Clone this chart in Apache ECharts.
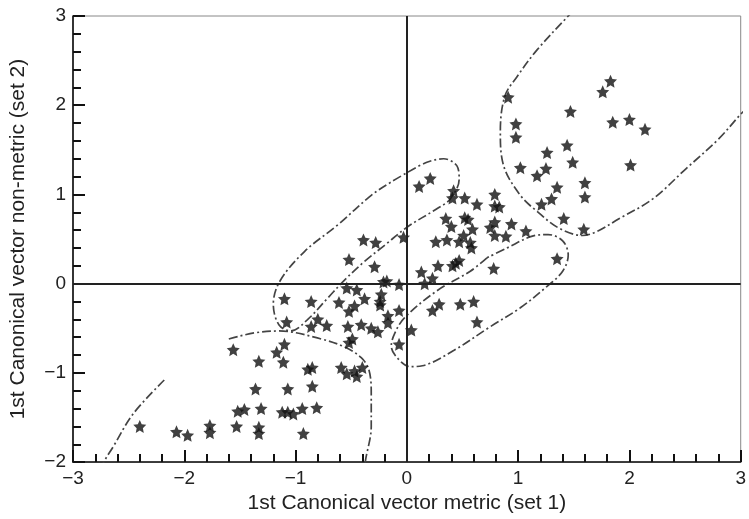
<!DOCTYPE html>
<html>
<head>
<meta charset="utf-8">
<script src="https://cdn.jsdelivr.net/npm/echarts@6/dist/echarts.min.js"></script>
<style>
  html, body { margin: 0; padding: 0; background: #fff; }
  #chart { width: 749px; height: 519px; }
</style>
</head>
<body>
<div id="chart"></div>
<script>
// Canonical scores: x = metric (set 1), y = non-metric (set 2)
var robustCrania = [
  [0.91,2.09],[1.83,2.27],[1.76,2.15],[1.47,1.93],[0.98,1.79],[0.98,1.64],[1.85,1.81],
  [2.00,1.84],[2.14,1.73],[1.44,1.55],[1.26,1.47],[1.49,1.36],[2.01,1.33],[1.02,1.30],
  [1.25,1.29],[1.17,1.21],[1.35,1.08],[1.60,1.13],[1.60,0.97],[1.30,0.95],[1.21,0.89],
  [1.41,0.73],[1.59,0.61]
];
var intermediateCrania = [
  [0.79,1.00],[0.79,0.87],[0.83,0.86],[0.79,0.69],[0.75,0.63],[0.94,0.67],[1.07,0.59],
  [0.79,0.54],[0.89,0.53],[1.35,0.28],[0.78,0.17],
  [0.11,1.09],[0.21,1.18],[0.42,1.04],[0.41,0.96],[0.52,0.96],[0.63,0.89],[0.35,0.73],
  [0.40,0.64],[0.52,0.74],[0.55,0.72],[0.59,0.61],
  [-0.03,0.52],[0.26,0.47],[0.36,0.49],[0.47,0.47],[0.51,0.54],[0.57,0.46],[0.58,0.40],
  [-0.39,0.49],[-0.28,0.46],[-0.52,0.27],[-0.29,0.19],[0.28,0.20],[0.41,0.20],[0.44,0.23],
  [0.47,0.26],[0.13,0.13],[0.23,0.06],[0.16,0.00],[-0.21,0.02],[-0.18,0.03],[-0.07,-0.01],
  [-0.54,-0.05],[-0.45,-0.07],[-1.10,-0.17],[-0.86,-0.20],[-0.61,-0.21],[-0.38,-0.17],
  [-0.23,-0.12],[-0.24,-0.20],[-0.24,-0.24],[-0.47,-0.25],[-0.52,-0.31],[-0.07,-0.30],
  [-0.17,-0.36],[0.23,-0.30],[0.29,-0.23],[0.48,-0.23],[0.60,-0.20],[0.63,-0.43],
  [-1.08,-0.43],[-0.80,-0.40],[-0.86,-0.48],[-0.72,-0.47],[-0.53,-0.48],[-0.41,-0.46],
  [-0.32,-0.50],[-0.26,-0.54],[-0.17,-0.44],[0.04,-0.52],[-0.49,-0.62],[-0.52,-0.66],
  [-0.07,-0.68]
];
var gracileCrania = [
  [-1.10,-0.68],[-1.17,-0.77],[-1.33,-0.87],[-1.11,-0.88],[-0.89,-0.96],[-0.85,-0.94],
  [-0.59,-0.94],[-0.54,-1.01],[-0.47,-0.98],[-0.45,-1.04],[-0.40,-0.94],[-1.36,-1.18],
  [-1.07,-1.18],[-0.85,-1.15],[-1.52,-1.43],[-1.46,-1.41],[-1.31,-1.40],[-1.12,-1.44],
  [-1.07,-1.44],[-1.02,-1.46],[-0.94,-1.40],[-0.81,-1.39],[-1.53,-1.60],[-1.33,-1.61],
  [-1.33,-1.68],[-0.93,-1.68],[-1.56,-0.74],[-2.40,-1.60],[-2.07,-1.66],[-1.97,-1.70],
  [-1.77,-1.59],[-1.77,-1.67]
];

// Hand-drawn group outlines (data coordinates)
var robustOutline = [
  [1.50,3.06],[1.45,3.00],[1.17,2.62],[0.99,2.32],[0.88,2.10],[0.84,1.70],[0.87,1.32],
  [1.02,0.99],[1.17,0.81],[1.37,0.62],[1.58,0.54],[1.70,0.58],[1.91,0.73],[2.21,0.95],
  [2.51,1.29],[2.80,1.62],[3.00,1.90],[3.05,1.96]
];
var upperLoop = [
  [0.01,1.25],[0.18,1.36],[0.33,1.40],[0.45,1.32],[0.47,1.17],[0.39,0.95],[0.27,0.84],
  [0.01,0.64],[-0.20,0.43],[-0.38,0.25],[-0.56,0.04],[-0.71,-0.16],[-0.89,-0.40],
  [-1.04,-0.53],[-1.15,-0.46],[-1.20,-0.23],[-1.14,0.03],[-0.92,0.36],[-0.62,0.66],
  [-0.32,0.99],[-0.14,1.14],[0.01,1.25]
];
var lowerLoop = [
  [0.72,0.29],[0.57,0.14],[0.27,-0.08],[-0.02,-0.38],[-0.11,-0.56],[-0.14,-0.70],
  [-0.08,-0.84],[0.03,-0.93],[0.14,-0.92],[0.42,-0.75],[0.74,-0.49],[1.02,-0.27],
  [1.26,-0.03],[1.40,0.14],[1.45,0.32],[1.40,0.48],[1.27,0.55],[1.12,0.53],[0.90,0.40],
  [0.72,0.29]
];
var gracileOutlineRight = [
  [-1.60,-0.62],[-1.51,-0.59],[-1.36,-0.55],[-1.15,-0.53],[-0.77,-0.62],[-0.56,-0.71],
  [-0.41,-0.83],[-0.34,-0.97],[-0.32,-1.23],[-0.32,-1.60],[-0.37,-1.97],[-0.38,-2.05]
];
var gracileOutlineLeft = [
  [-2.18,-1.08],[-2.46,-1.46],[-2.64,-1.83],[-2.72,-1.99],[-2.74,-2.05]
];

var groupLabels = [
  { name: 'Facially robust crania', value: [2.09, 2.52] },
  { name: 'Facially gracile\ncrania', value: [-2.22, -0.79] }
];

var FONT = "'Liberation Sans', Arial, Helvetica, sans-serif";
var STAR = 'path://M50,0 L64.1,30.6 L97.6,34.5 L72.8,57.4 L79.4,90.5 L50,74 L20.6,90.5 L27.2,57.4 L2.4,34.5 L35.9,30.6 Z';
var INK = '#111';

function minusFmt(v) { return String(v).replace('-', '\u2212'); }

function outline(data) {
  return {
    type: 'line', data: data, smooth: 0.35, symbol: 'none', silent: true, clip: true,
    lineStyle: { color: '#444', width: 1.7, type: [9, 3, 2, 3] }, z: 1
  };
}
function stars(data) {
  return {
    type: 'scatter', data: data, symbol: STAR, symbolSize: 13, silent: true,
    itemStyle: { color: '#111' }, z: 3
  };
}

// integer ticks with labels, inward minor ticks every 0.2
function axis(min, max, name, gap, pos) {
  return {
    type: 'value', min: min, max: max, interval: 1, position: pos,
    axisLine: { onZero: false, lineStyle: { color: INK, width: 1.6 } },
    axisTick: { show: true, inside: true, length: 12, lineStyle: { color: INK, width: 2 } },
    minorTick: { show: true, splitNumber: 5, length: 8, lineStyle: { color: INK, width: 2 } },
    splitLine: { show: false },
    name: name, nameGap: gap, nameLocation: 'middle',
    nameTextStyle: { color: '#222', fontSize: 21, fontFamily: FONT },
    axisLabel: { color: '#222', fontSize: 19, fontFamily: FONT, margin: 7, formatter: minusFmt }
  };
}

var chart = echarts.init(document.getElementById('chart'), null, { renderer: 'canvas' });
chart.setOption({
  animation: false,
  backgroundColor: '#fff',
  grid: { left: 73, right: 4, top: 16, bottom: 53, show: true, borderColor: '#888', borderWidth: 1 },
  xAxis: axis(-3, 3, '1st Canonical vector metric (set 1)', 30, 'bottom'),
  yAxis: axis(-2, 3, '1st Canonical vector non-metric (set 2)', 44, 'left'),
  series: [
    outline(robustOutline),
    outline(upperLoop),
    outline(lowerLoop),
    outline(gracileOutlineRight),
    outline(gracileOutlineLeft),
    stars(robustCrania),
    stars(intermediateCrania),
    Object.assign(stars(gracileCrania), {
      markLine: {
        silent: true, symbol: ['none', 'none'], label: { show: false },
        lineStyle: { type: 'solid', color: '#222', width: 2 },
        data: [{ xAxis: 0 }, { yAxis: 0 }]
      }
    }),
    {
      type: 'scatter', data: groupLabels, symbolSize: 1, silent: true,
      itemStyle: { opacity: 0 }, z: 4,
      label: {
        show: true, position: 'inside', formatter: '{b}', color: '#222',
        fontSize: 20, fontFamily: FONT, lineHeight: 24, align: 'center'
      }
    }
  ]
});
</script>
</body>
</html>
